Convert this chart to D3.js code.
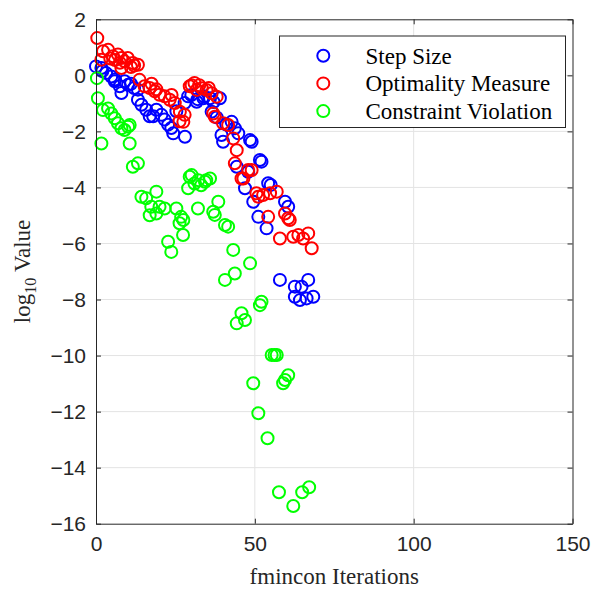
<!DOCTYPE html>
<html><head><meta charset="utf-8">
<script src="https://cdn.jsdelivr.net/npm/d3@7"></script>
<style>body{margin:0;background:#fff}</style>
</head><body>
<script>
// Series: [iteration, log10 value]
const stepSize = [[0,0.32],[1.7,0.26],[2,0.15],[3.2,0.08],[4.8,-0.04],[5.9,-0.21],[6,-0.15],[7.5,-0.39],[8,-0.63],[9,-0.21],[10.1,-0.34],[11,-0.3],[12,-0.45],[13.2,-0.51],[13.2,-0.87],[14.3,-1.05],[15.8,-1.23],[16.9,-1.46],[18,-1.46],[19,-1.23],[20.6,-1.41],[21.6,-1.58],[22.7,-1.76],[23.7,-1.88],[24.3,-2.07],[25.3,-1.28],[27.9,-0.99],[28,-2.19],[29,-0.75],[30,-0.7],[31.7,-0.94],[32,-0.85],[33.8,-0.82],[34,-0.75],[35.9,-0.82],[36.4,-1.3],[37,-0.95],[38,-1.5],[39,-0.82],[39.5,-2.13],[40,-2.37],[41,-1.75],[42.7,-1.66],[43.7,-1.89],[44.3,-3.26],[44.8,-2.07],[46.9,-4.03],[47.9,-3.44],[48.5,-2.31],[49,-2.37],[49.5,-4.51],[51.1,-5.05],[51.6,-3.02],[52.1,-3.08],[53.7,-5.46],[54.2,-3.85],[55,-3.91],[57.9,-7.3],[59.5,-4.51],[60.5,-4.69],[62.6,-7.54],[62.6,-7.9],[64.2,-8.02],[64.7,-7.54],[66.3,-7.96],[66.8,-7.3],[68.4,-7.9]];
const optimality = [[0.4,1.33],[1.7,0.56],[2.2,0.86],[3.8,0.91],[4.5,0.6],[5.3,0.68],[6,0.55],[6.9,0.74],[7.5,0.45],[8,0.62],[8,0.26],[9,0.5],[10,0.62],[11,0.3],[11.6,0.44],[12,0.35],[13.2,0.38],[13.7,-0.16],[15.3,-0.39],[16.9,-0.45],[17.5,-0.3],[18.5,-0.57],[19,-0.5],[20,-0.69],[21.6,-0.75],[23.2,-0.87],[23.8,-0.7],[24.8,-0.99],[26.3,-1.64],[26.4,-1.3],[27.5,-1.66],[27.9,-1.41],[29.5,-0.39],[30.1,-0.35],[31,-0.27],[31.7,-0.52],[32.5,-0.35],[33.3,-0.46],[34.8,-0.52],[35.5,-0.45],[36.4,-0.64],[36.9,-1.36],[37.4,-1.48],[38,-0.76],[40,-1.71],[41.6,-1.77],[43.2,-2.25],[43.7,-3.14],[44.3,-2.67],[45.8,-3.68],[46.4,-3.68],[47.9,-3.38],[49,-3.38],[50.5,-4.21],[51.1,-4.33],[52.6,-4.27],[54.2,-5.05],[54.8,-4.21],[56.9,-4.15],[57.9,-5.82],[59.5,-4.93],[60.5,-5.1],[61,-5.16],[62.1,-5.76],[63.7,-5.7],[65.2,-5.82],[66.8,-5.64],[67.9,-6.17]];
const constraint = [[0.3,-0.1],[0.6,-0.82],[1.7,-2.43],[2.2,-1.24],[3.8,-1.18],[4.8,-1.36],[5.9,-1.53],[6.9,-1.71],[8,-1.89],[9,-1.95],[10.1,-1.83],[10.6,-1.77],[10.6,-2.43],[11.6,-3.26],[13.2,-3.14],[14.3,-4.33],[15.8,-4.39],[16.9,-4.99],[17.4,-4.69],[19,-4.15],[19,-4.93],[20,-4.69],[21.6,-4.75],[22.7,-5.94],[23.7,-6.3],[25.3,-4.75],[26.3,-5.28],[26.8,-5.05],[27.4,-5.7],[27.5,-5.16],[29,-4.03],[29.5,-3.62],[30.1,-3.56],[31,-3.86],[32.1,-4.75],[32.2,-3.74],[33.1,-3.92],[34.3,-3.8],[34.7,-3.74],[35.9,-3.68],[36.9,-4.87],[37.4,-4.98],[38.5,-4.51],[40.6,-5.34],[40.6,-7.3],[41.6,-5.4],[43.2,-6.23],[43.7,-7.07],[44.3,-8.85],[45.8,-8.49],[46.9,-8.73],[48.5,-6.71],[49.5,-10.99],[51.1,-12.06],[51.6,-8.2],[52.1,-8.08],[54,-12.95],[55.3,-9.98],[56.2,-9.98],[56.9,-9.98],[57.6,-14.88],[58.9,-10.99],[59.5,-10.87],[60.5,-10.7],[62.1,-15.37],[64.9,-14.88],[67.1,-14.7]];

const seriesNames = ["Step Size","Optimality Measure","Constraint Violation"];
const seriesColors = ["#0000ff","#ff0000","#00ff00"];
const xTicks = [0,50,100,150];
const yTicks = [-16,-14,-12,-10,-8,-6,-4,-2,0,2];

const W=592,H=592;
const x = d3.scaleLinear().domain([0,150]).range([96,572.5]);
const y = d3.scaleLinear().domain([-16,2]).range([523.7,19.3]);
const svg = d3.select("body").append("svg").attr("width",W).attr("height",H);
const axCol="#262626";

// grid
svg.append("g").selectAll("line").data(xTicks.slice(1,-1)).join("line")
  .attr("x1",d=>x(d)).attr("x2",d=>x(d)).attr("y1",y(-16)).attr("y2",y(2))
  .attr("stroke","#e3e3e3").attr("stroke-width",1);
svg.append("g").selectAll("line").data(yTicks.slice(1,-1)).join("line")
  .attr("y1",d=>y(d)).attr("y2",d=>y(d)).attr("x1",x(0)).attr("x2",x(150))
  .attr("stroke","#e3e3e3").attr("stroke-width",1);

// data
const all = [stepSize, optimality, constraint];
all.forEach((s,i)=>{
  svg.append("g").selectAll("circle").data(s).join("circle")
    .attr("cx",d=>x(d[0])).attr("cy",d=>y(d[1])).attr("r",6)
    .attr("fill","none").attr("stroke",seriesColors[i]).attr("stroke-width",2);
});

// axes
const fsTick = "21px 'Liberation Sans', Arial, sans-serif";
const gx = svg.append("g").attr("transform",`translate(0,${y(-16)})`)
  .call(d3.axisBottom(x).tickValues(xTicks).tickSizeInner(-5).tickSizeOuter(0).tickPadding(12));
const gy = svg.append("g").attr("transform",`translate(${x(0)},0)`)
  .call(d3.axisLeft(y).tickValues(yTicks).tickSizeInner(-5).tickSizeOuter(0).tickPadding(10));
const gxt = svg.append("g").attr("transform",`translate(0,${y(2)})`)
  .call(d3.axisTop(x).tickValues(xTicks).tickSizeInner(-5).tickSizeOuter(0).tickFormat(""));
const gyr = svg.append("g").attr("transform",`translate(${x(150)},0)`)
  .call(d3.axisRight(y).tickValues(yTicks).tickSizeInner(-5).tickSizeOuter(0).tickFormat(""));
[gx,gy,gxt,gyr].forEach(g=>{
  g.selectAll("path").attr("stroke",axCol).attr("stroke-width",1);
  g.selectAll("line").attr("stroke",axCol);
  g.selectAll("text").attr("fill",axCol).style("font",fsTick);
});
gx.selectAll("text").attr("dy","0.71em");

// labels
const serif = "'Liberation Serif','Times New Roman',serif";
svg.append("text").attr("x",(x(0)+x(150))/2).attr("y",584)
  .attr("text-anchor","middle").style("font-family",serif).style("font-size","23px")
  .attr("fill",axCol).text("fmincon Iterations");
const yl = svg.append("text").attr("transform",`translate(30,${(y(-16)+y(2))/2}) rotate(-90)`)
  .attr("text-anchor","middle").style("font-family",serif).style("font-size","23px").attr("fill",axCol);
yl.append("tspan").text("log");
yl.append("tspan").text("10").attr("dy","6").style("font-size","16px");
yl.append("tspan").text("\u00a0Value").attr("dy","-6");

// legend
const lg = svg.append("g");
lg.append("rect").attr("x",279.5).attr("y",36).attr("width",286).attr("height",91.5)
  .attr("fill","#fff").attr("stroke",axCol).attr("stroke-width",1);
seriesNames.forEach((n,i)=>{
  const yy = 55.7 + i*27.7;
  lg.append("circle").attr("cx",323.3).attr("cy",yy).attr("r",6)
    .attr("fill","none").attr("stroke",seriesColors[i]).attr("stroke-width",2);
  lg.append("text").attr("x",365.5).attr("y",yy).attr("dy","0.35em")
    .style("font-family",serif).style("font-size","23px").attr("fill","#000").text(n);
});
</script>
</body></html>
